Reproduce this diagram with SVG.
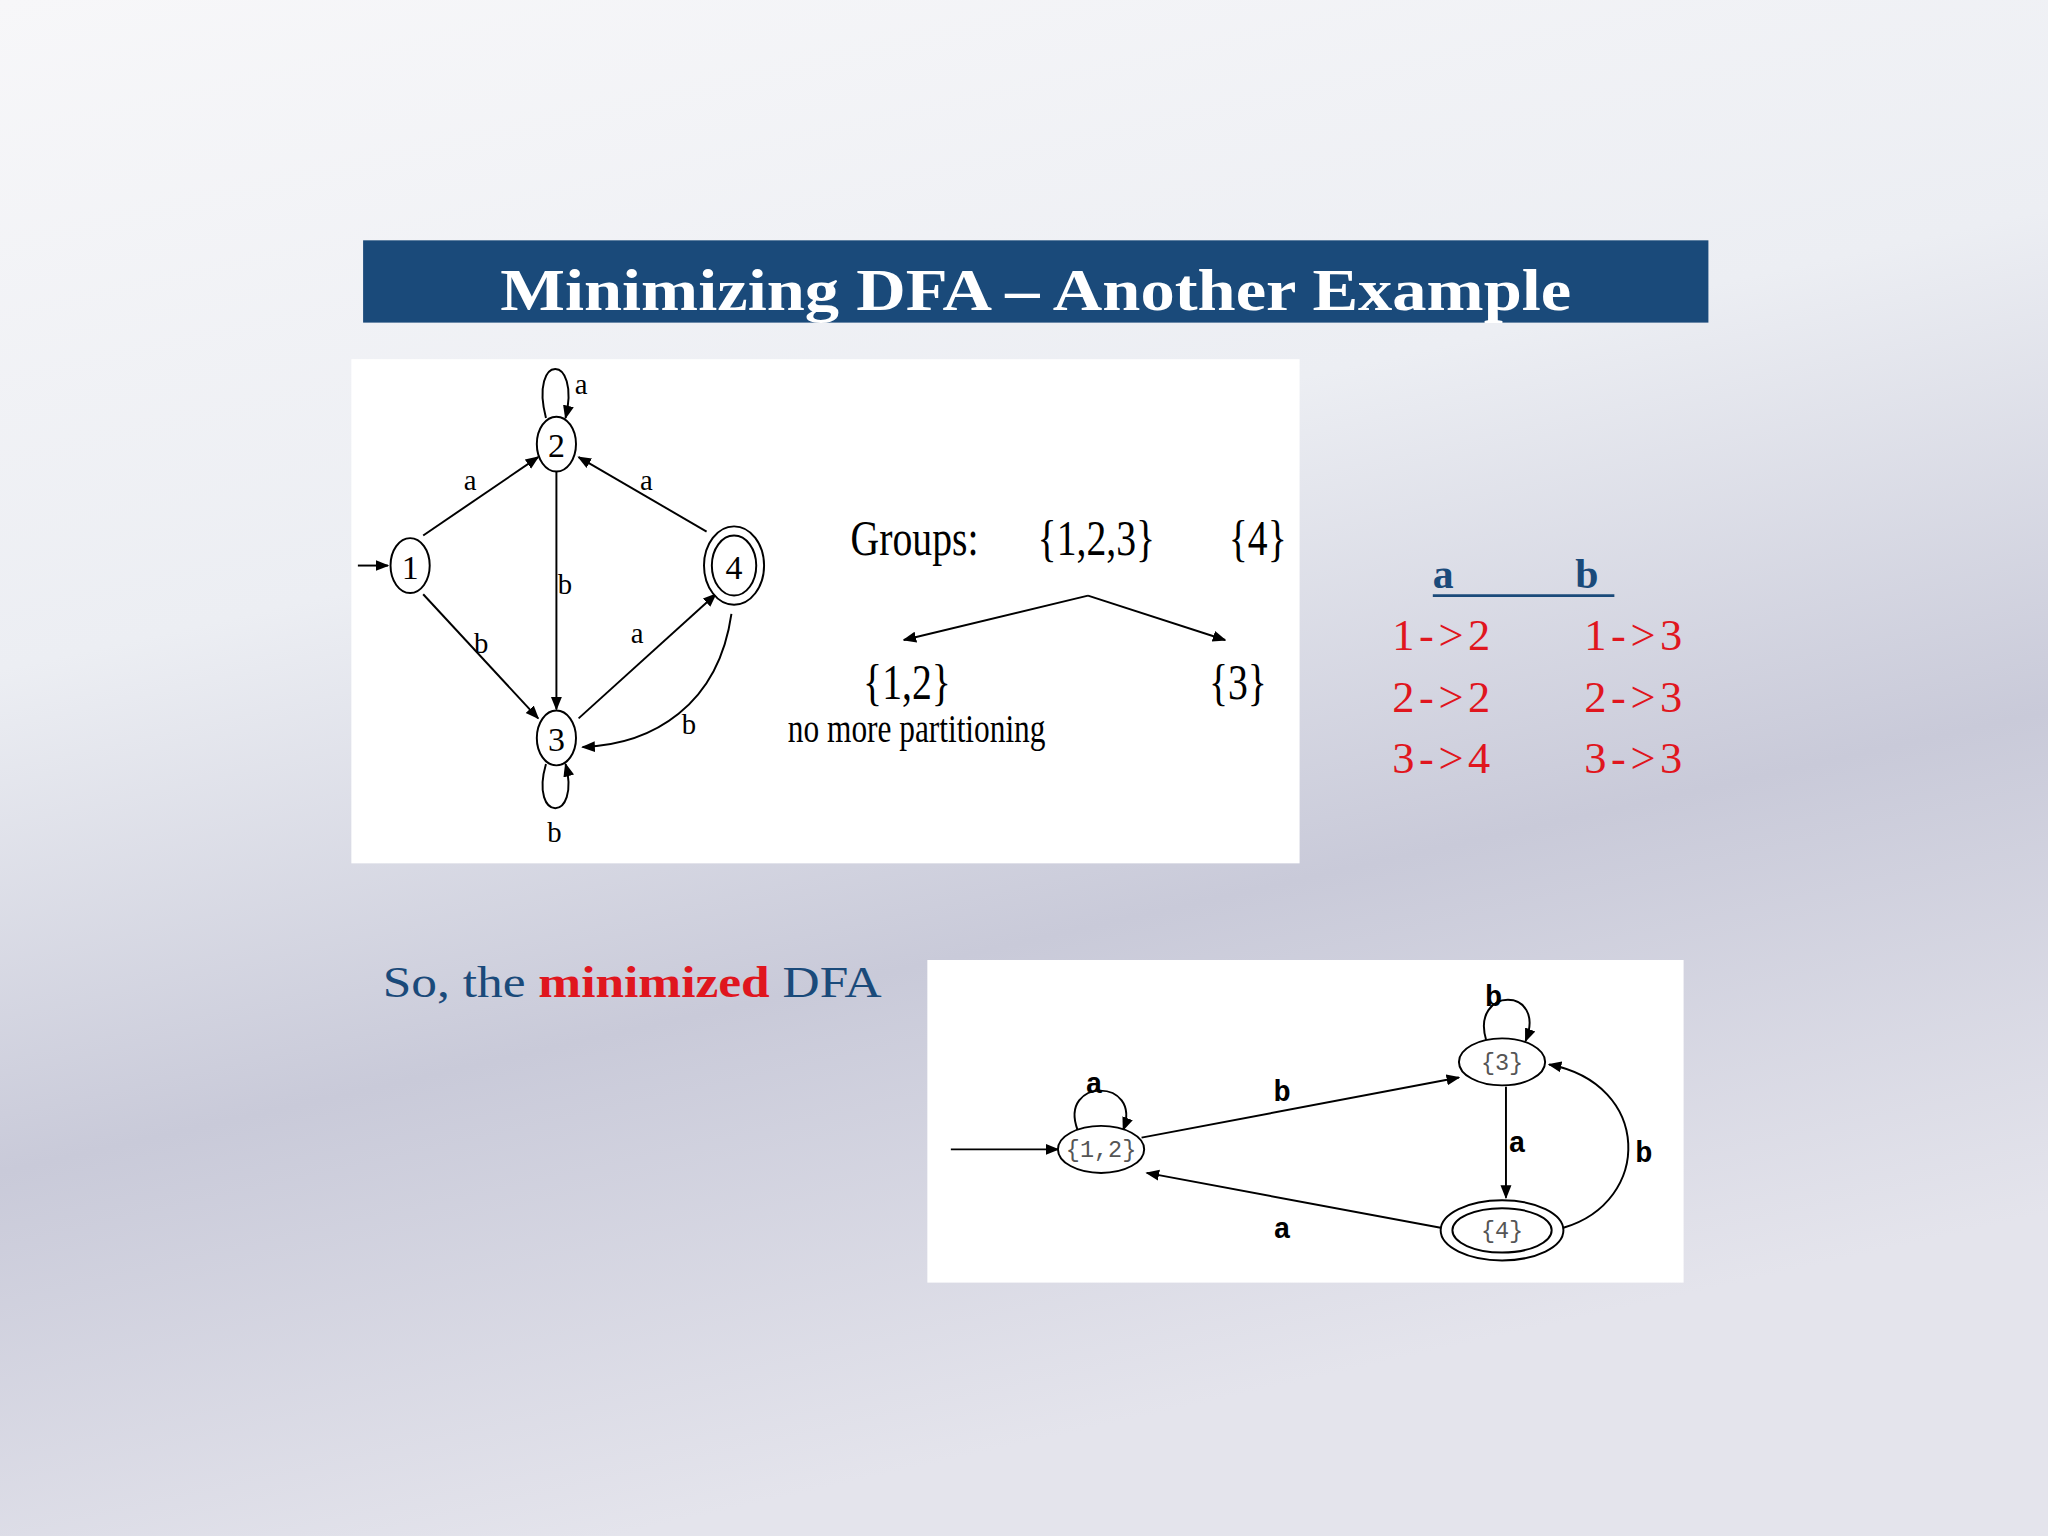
<svg xmlns="http://www.w3.org/2000/svg" width="2048" height="1536" viewBox="0 0 2048 1536">
<defs>
<linearGradient id="bg" x1="0" y1="0" x2="0.3" y2="1">
<stop offset="0" stop-color="#f7f7f9"/><stop offset="0.4" stop-color="#eceef3"/><stop offset="0.7" stop-color="#c9cad9"/><stop offset="1" stop-color="#e4e4ec"/>
</linearGradient>
<marker id="ar" viewBox="0 0 10 10" refX="9" refY="5" markerWidth="7" markerHeight="7" orient="auto"><path d="M0,1 L10,5 L0,9 z" fill="#000"/></marker>
<style>
.e{fill:#fff;stroke:#000;stroke-width:1.5}
.l{fill:none;stroke:#000;stroke-width:1.5;marker-end:url(#ar)}
.t{font-family:"Liberation Serif",serif;fill:#000}
.r{font-family:"Liberation Serif",serif;fill:#e0161e;font-size:34px}
</style>
</defs>
<rect width="2048" height="1536" fill="url(#bg)"/>
<g transform="scale(1.30612)">
<g id="title"><rect x="278" y="184" width="1030" height="63" fill="#1a4a7a"/>
<text x="383" y="237" textLength="820" lengthAdjust="spacingAndGlyphs" font-family="Liberation Serif,serif" font-weight="bold" font-size="46" fill="#fff">Minimizing DFA – Another Example</text></g>
<rect x="269" y="275" width="726" height="386" fill="#fff"/>
<g id="connectors1">
<line class="l" x1="274" y1="433" x2="297" y2="433"/>
<line class="l" x1="324" y1="410" x2="412" y2="350"/>
<line class="l" x1="324" y1="455" x2="412" y2="550"/>
<line class="l" x1="426" y1="360" x2="426" y2="543"/>
<line class="l" x1="541" y1="407" x2="443" y2="350"/>
<line class="l" x1="443" y1="550" x2="548" y2="455"/>
<path class="l" d="M560,470 C550,540 500,570 446,572"/>
<path class="l" d="M418,320 C405,270 445,270 433,320"/>
<path class="l" d="M418,585 C405,630 445,630 433,585"/>
</g>
<g id="n1"><ellipse class="e" cx="314" cy="433" rx="15" ry="21"/><text class="t" x="314" y="443" font-size="26" text-anchor="middle">1</text></g>
<g id="n2"><ellipse class="e" cx="426" cy="340" rx="15" ry="21"/><text class="t" x="426" y="350" font-size="26" text-anchor="middle">2</text></g>
<g id="n3"><ellipse class="e" cx="426" cy="565" rx="15" ry="21"/><text class="t" x="426" y="575" font-size="26" text-anchor="middle">3</text></g>
<g id="n4"><ellipse class="e" cx="562" cy="433" rx="23" ry="30"/><ellipse class="e" cx="562" cy="433" rx="17" ry="23"/><text class="t" x="562" y="443" font-size="26" text-anchor="middle">4</text></g>
<g class="t" font-size="22">
<text x="440" y="302">a</text><text x="355" y="375">a</text><text x="490" y="375">a</text>
<text x="427" y="455">b</text><text x="363" y="500">b</text><text x="483" y="492">a</text>
<text x="522" y="562">b</text><text x="419" y="645">b</text>
</g>
<g class="t" font-size="38" transform="scale(0.8,1)">
<text x="814" y="425">Groups:</text><text x="993" y="425">{1,2,3}</text><text x="1176" y="425">{4}</text>
<text x="826" y="535">{1,2}</text><text x="1157" y="535">{3}</text>
<text x="754" y="568" font-size="30">no more partitioning</text>
</g>
<g id="connectors2">
<line class="l" x1="833" y1="456" x2="692" y2="490"/>
<line class="l" x1="833" y1="456" x2="938" y2="490"/>
</g>
<g id="table">
<text x="1105" y="450" text-anchor="middle" font-family="Liberation Serif,serif" font-weight="bold" font-size="32" fill="#1a4a7a">a</text>
<text x="1215" y="450" text-anchor="middle" font-family="Liberation Serif,serif" font-weight="bold" font-size="32" fill="#1a4a7a">b</text>
<line x1="1097" y1="456" x2="1236" y2="456" stroke="#1a4a7a" stroke-width="2"/>
<text class="r" x="1066" y="498" textLength="75">1-&gt;2</text><text class="r" x="1213" y="498" textLength="75">1-&gt;3</text>
<text class="r" x="1066" y="545" textLength="75">2-&gt;2</text><text class="r" x="1213" y="545" textLength="75">2-&gt;3</text>
<text class="r" x="1066" y="592" textLength="75">3-&gt;4</text><text class="r" x="1213" y="592" textLength="75">3-&gt;3</text>
</g>
<text x="293" y="763" textLength="382" lengthAdjust="spacingAndGlyphs" font-family="Liberation Serif,serif" font-size="34" fill="#1a4a7a">So, the <tspan fill="#e0161e" font-weight="bold">minimized</tspan> DFA</text>
<rect x="710" y="735" width="579" height="247" fill="#fff"/>
<g id="connectors3">
<line class="l" x1="728" y1="880" x2="810" y2="880"/>
<line class="l" x1="874" y1="871" x2="1117" y2="825"/>
<line class="l" x1="1103" y1="940" x2="878" y2="898"/>
<line class="l" x1="1153" y1="832" x2="1153" y2="917"/>
<path class="l" d="M1197,940 C1265,920 1265,830 1186,815"/>
<path class="l" d="M825,865 C810,825 875,825 860,865"/>
<path class="l" d="M1138,797 C1125,755 1185,755 1168,797"/>
</g>
<g id="m12"><ellipse class="e" cx="843" cy="880" rx="33" ry="18"/><text x="843" y="886" text-anchor="middle" font-family="Liberation Mono,monospace" font-size="18" fill="#555">{1,2}</text></g>
<g id="m3"><ellipse class="e" cx="1150" cy="813" rx="33" ry="18"/><text x="1150" y="819" text-anchor="middle" font-family="Liberation Mono,monospace" font-size="18" fill="#555">{3}</text></g>
<g id="m4"><ellipse class="e" cx="1150" cy="942" rx="47" ry="23"/><ellipse class="e" cx="1150" cy="942" rx="38" ry="17"/><text x="1150" y="948" text-anchor="middle" font-family="Liberation Mono,monospace" font-size="18" fill="#555">{4}</text></g>
<g font-family="Liberation Mono,monospace" font-weight="bold" font-size="22" fill="#000">
<text x="831" y="837">a</text><text x="975" y="843">b</text><text x="1137" y="770">b</text>
<text x="1155" y="882">a</text><text x="1252" y="890">b</text><text x="975" y="948">a</text>
</g>
</g>
</svg>
